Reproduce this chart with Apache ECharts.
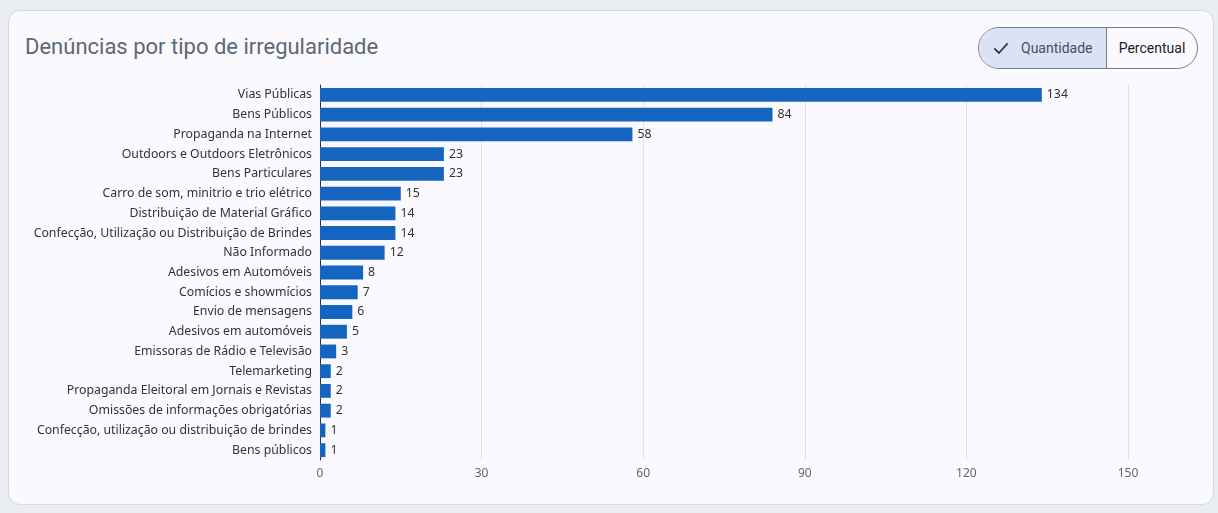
<!DOCTYPE html>
<html>
<head>
<meta charset="utf-8">
<script src="https://cdn.jsdelivr.net/npm/echarts@6/dist/echarts.min.js"></script>
<style>
  html, body { margin: 0; padding: 0; background: #e9edf0; width: 1218px; height: 513px; overflow: hidden; }
  .card { position: absolute; left: 8px; top: 10px; width: 1204px; height: 493px; background: #f9f9fe; border: 1px solid #d6dadf; border-radius: 12px; }
  .title { position: absolute; left: 16px; top: 23px; font-family: Roboto, sans-serif; font-size: 22px; color: #5d6873; }
  .toggle { position: absolute; left: 969px; top: 16px; width: 218px; height: 40px; border: 1px solid #7a7f86; border-radius: 21px; overflow: hidden; display: flex; font-family: Roboto, sans-serif; font-size: 14px; }
  .toggle .on { width: 127px; background: #dbe2f6; border-right: 1px solid #7a7f86; display: flex; align-items: center; color: #4a5058; }
  .toggle .on svg { margin-left: 12px; margin-right: 10px; }
  .toggle .off { flex: 1; display: flex; align-items: center; justify-content: center; color: #222; }
  #chart { position: absolute; left: 0; top: 0; width: 1218px; height: 513px; }
</style>
</head>
<body>
<div class="card">
  <div class="title">Denúncias por tipo de irregularidade</div>
  <div class="toggle">
    <div class="on">
      <svg width="20" height="20" viewBox="0 0 24 24"><path d="M4 12.5 L9.5 18 L20 6.5" fill="none" stroke="#333a42" stroke-width="2.2"/></svg>
      Quantidade
    </div>
    <div class="off">Percentual</div>
  </div>
</div>
<div id="chart"></div>
<script>
var categories = [
  'Vias Públicas',
  'Bens Públicos',
  'Propaganda na Internet',
  'Outdoors e Outdoors Eletrônicos',
  'Bens Particulares',
  'Carro de som, minitrio e trio elétrico',
  'Distribuição de Material Gráfico',
  'Confecção, Utilização ou Distribuição de Brindes',
  'Não Informado',
  'Adesivos em Automóveis',
  'Comícios e showmícios',
  'Envio de mensagens',
  'Adesivos em automóveis',
  'Emissoras de Rádio e Televisão',
  'Telemarketing',
  'Propaganda Eleitoral em Jornais e Revistas',
  'Omissões de informações obrigatórias',
  'Confecção, utilização ou distribuição de brindes',
  'Bens públicos'
];
var values = [134, 84, 58, 23, 23, 15, 14, 14, 12, 8, 7, 6, 5, 3, 2, 2, 2, 1, 1];

var myChart = echarts.init(document.getElementById('chart'));
var option = {
  animation: false,
  grid: { left: 320, right: 90, top: 85, bottom: 53 },
  xAxis: {
    type: 'value',
    min: 0,
    max: 150,
    interval: 30,
    axisLine: { show: false },
    axisTick: { show: false },
    splitLine: { lineStyle: { color: '#e0e2e8' } },
    axisLabel: { color: '#666', fontSize: 12, margin: 8 }
  },
  yAxis: {
    type: 'category',
    inverse: true,
    data: categories,
    axisLine: { show: true, lineStyle: { color: '#333' } },
    axisTick: { show: false },
    axisLabel: { color: '#333', fontSize: 12.3, margin: 8 }
  },
  series: [{
    type: 'bar',
    data: values,
    barCategoryGap: '30%',
    itemStyle: { color: '#1565c0' },
    label: { show: true, position: 'right', color: '#333', fontSize: 12.3, distance: 5 }
  }],
  textStyle: { fontFamily: '"Noto Sans", sans-serif' }
};
myChart.setOption(option);
</script>
</body>
</html>
